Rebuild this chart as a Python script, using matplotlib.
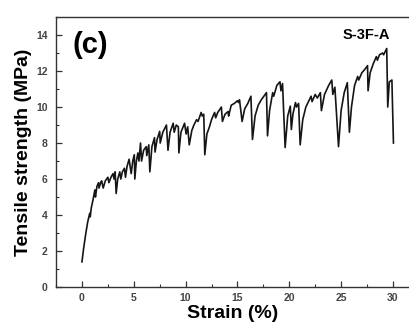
import matplotlib
matplotlib.use("Agg")
import matplotlib.pyplot as plt
from matplotlib.ticker import MultipleLocator

plt.rcParams['font.family'] = ['Liberation Sans', 'DejaVu Sans']

strain = [0.00, 0.15, 0.35, 0.55, 0.75, 0.80, 0.90, 1.05, 1.25, 1.30, 1.45, 1.60, 1.65, 1.80,
          1.90, 2.05, 2.25, 2.50, 2.60, 2.80, 3.00, 3.10, 3.20, 3.30, 3.45, 3.65, 3.75, 3.90,
          4.10, 4.20, 4.35, 4.55, 4.75, 4.90, 5.05, 5.10, 5.25, 5.40, 5.50, 5.65, 5.75, 5.95,
          6.20, 6.25, 6.45, 6.55, 6.75, 7.00, 7.05, 7.25, 7.50, 7.55, 7.80, 8.15, 8.30, 8.50,
          8.80, 8.90, 9.10, 9.30, 9.35, 9.55, 9.90, 10.05, 10.20, 10.35, 10.60, 10.80, 11.06,
          11.20, 11.50, 11.60, 11.75, 11.85, 12.05, 12.30, 12.50, 12.80, 12.90, 13.10, 13.45,
          13.55, 13.80, 14.10, 14.15, 14.40, 14.70, 15.00, 15.10, 15.20, 15.45, 15.70, 16.00,
          16.30, 16.45, 16.70, 17.00, 17.30, 17.80, 17.90, 18.10, 18.40, 18.50, 18.80, 19.10,
          19.20, 19.35, 19.60, 19.85, 20.10, 20.20, 20.35, 20.60, 20.70, 20.90, 21.05, 21.30,
          21.60, 22.10, 22.20, 22.50, 22.70, 23.00, 23.10, 23.40, 23.80, 24.10, 24.20, 24.40,
          24.75, 25.00, 25.30, 25.60, 25.80, 26.00, 26.30, 26.60, 26.70, 27.00, 27.30, 27.55,
          27.60, 27.80, 28.10, 28.40, 28.50, 28.70, 29.00, 29.10, 29.40, 29.50, 29.65, 29.90,
          30.05]
stress = [1.40, 2.10, 2.90, 3.60, 4.10, 3.90, 4.40, 4.80, 5.40, 5.00, 5.60, 5.80, 5.50, 5.80,
          5.90, 5.50, 5.90, 6.10, 5.80, 6.10, 6.30, 6.00, 6.40, 5.20, 6.00, 6.40, 6.00, 6.40,
          6.60, 6.10, 6.70, 7.10, 6.30, 7.00, 7.35, 6.00, 7.00, 7.45, 7.00, 8.00, 7.00, 7.60,
          7.80, 7.30, 7.90, 6.40, 7.80, 8.30, 7.50, 8.20, 8.65, 8.00, 8.60, 9.00, 7.60, 8.60,
          9.10, 8.60, 9.00, 8.90, 7.45, 8.60, 9.10, 8.50, 8.90, 7.90, 8.70, 9.00, 9.30,
          9.20, 9.70, 9.50, 9.60, 7.35, 8.50, 8.90, 9.30, 9.70, 9.40, 9.70, 10.00,
          9.20, 9.60, 9.75, 9.50, 10.10, 10.20, 10.35, 10.25, 10.40, 9.20, 9.90, 10.20,
          10.60, 8.20, 9.50, 10.10, 10.40, 10.80, 8.40, 9.80, 10.80, 10.60, 11.20, 11.40,
          10.90, 11.30, 7.75, 9.50, 10.05, 8.75, 9.60, 10.25, 10.00, 10.20, 7.90, 9.30,
          10.00, 10.60, 10.30, 10.70, 10.50, 10.80, 9.80, 10.70, 11.20, 11.50, 10.70, 11.10,
          7.80, 9.80, 10.80, 11.35, 8.60, 10.00, 11.20, 11.70, 11.50, 11.90, 12.10, 12.30,
          10.90, 11.90, 12.40, 12.80, 12.60, 12.90, 13.00, 12.90, 13.25, 10.00, 11.40, 11.50,
          8.00]

x_ticks = [0, 5, 10, 15, 20, 25, 30]
y_ticks = [0, 2, 4, 6, 8, 10, 12, 14]
panel_label = "(c)"
sample_label = "S-3F-A"

fig = plt.figure(figsize=(4.09, 3.30), dpi=100)
ax = fig.add_axes([0.137, 0.130, 0.863, 0.8185])
ax.plot(strain, stress, color='#151515', lw=1.2)

ax.set_xlim(-2.5, 31.55)
ax.set_ylim(0, 15)
ax.set_xticks(x_ticks)
ax.set_yticks(y_ticks)
ax.xaxis.set_minor_locator(MultipleLocator(2.5))
ax.yaxis.set_minor_locator(MultipleLocator(1))
ax.tick_params(which='major', direction='in', length=4, width=0.9, color='#333333',
               labelsize=7.5, labelcolor='#444444', pad=4)
ax.tick_params(which='minor', direction='in', length=2, width=0.8, color='#333333')
ax.tick_params(axis='y', which='major', pad=6)
for lab in ax.get_xticklabels() + ax.get_yticklabels():
    lab.set_fontweight('bold')

for s in ['left', 'bottom', 'top']:
    ax.spines[s].set_color('#333333')
    ax.spines[s].set_linewidth(1.0)
ax.spines['right'].set_visible(False)

ax.set_xlabel('Strain (%)', fontsize=14, fontweight='bold', labelpad=2)
ax.set_ylabel('Tensile strength (MPa)', fontsize=14, fontweight='bold', labelpad=3)

ax.text(0.048, 0.948, panel_label, transform=ax.transAxes, fontsize=21,
        fontweight='bold', ha='left', va='top')
ax.text(0.946, 0.933, sample_label, transform=ax.transAxes, fontsize=10.5,
        fontweight='bold', ha='right', va='center')

fig.savefig('out.png', dpi=100)
